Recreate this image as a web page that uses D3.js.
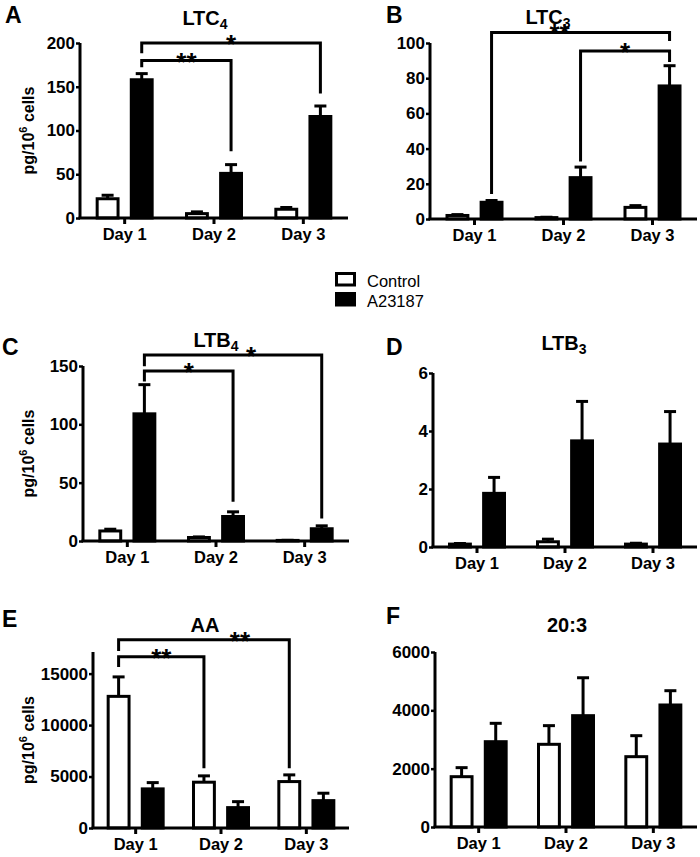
<!DOCTYPE html>
<html>
<head>
<meta charset="utf-8">
<script src="https://cdn.jsdelivr.net/npm/d3@7"></script>
<style>
  body { margin: 0; background: #fff; }
  svg { display: block; font-family: "Liberation Sans", Arial, sans-serif; }
</style>
</head>
<body>
<svg></svg>
<script>
const size = { w: 700, h: 857 };
const svg = d3.select("svg").attr("width", size.w).attr("height", size.h);

// categories
const days = ["Day 1", "Day 2", "Day 3"];
const groups = ["Control", "A23187"];

// means and SEM, one array per series (Day 1..3)
const ltc4Control = [22, 5, 10];
const ltc4ControlSem = [4, 2, 2];
const ltc4A23187 = [158, 51, 116];
const ltc4A23187Sem = [7, 10, 12];

const ltc3Control = [2, 0.8, 6.6];
const ltc3ControlSem = [0.5, 0.2, 1];
const ltc3A23187 = [9.5, 23.5, 75.6];
const ltc3A23187Sem = [1, 6, 11.5];

const ltb4Control = [8.6, 3, 0.5];
const ltb4ControlSem = [1.5, 0.5, 0.1];
const ltb4A23187 = [109, 21, 10.5];
const ltb4A23187Sem = [25, 4, 2.5];

const ltb3Control = [0.1, 0.18, 0.1];
const ltb3ControlSem = [0.02, 0.09, 0.03];
const ltb3A23187 = [1.85, 3.66, 3.55];
const ltb3A23187Sem = [0.55, 1.36, 1.12];

const aaControl = [12790, 4450, 4510];
const aaControlSem = [1890, 615, 650];
const aaA23187 = [3800, 1980, 2660];
const aaA23187Sem = [610, 580, 720];

const dgla20Control = [1725, 2835, 2411];
const dgla20ControlSem = [310, 640, 720];
const dgla20A23187 = [2925, 3817, 4183];
const dgla20A23187Sem = [630, 1300, 490];

// tick values
const ltc4Ticks = [0, 50, 100, 150, 200];
const ltc3Ticks = [0, 20, 40, 60, 80, 100];
const ltb4Ticks = [0, 50, 100, 150];
const ltb3Ticks = [0, 2, 4, 6];
const aaTicks = [0, 5000, 10000, 15000];
const dgla20Ticks = [0, 2000, 4000, 6000];

// significance brackets: [day, group] ends, values in data units
const ltc4Sig = [
	{ from: [0, 1], to: [2, 1], level: 200, leftEnd: 190, rightEnd: 144, label: "*" },
	{ from: [0, 1], to: [1, 1], level: 180, leftEnd: 174, rightEnd: 78, label: "**" },
];
const ltc3Sig = [
	{ from: [0, 1], to: [2, 1], level: 106, leftEnd: 15, rightEnd: 102, label: "**" },
	{ from: [1, 1], to: [2, 1], level: 95.5, leftEnd: 33.5, rightEnd: 90, label: "*" },
];
const ltb4Sig = [
	{ from: [0, 1], to: [2, 1], level: 159.4, leftEnd: 151, rightEnd: 20.6, label: "*" },
	{ from: [0, 1], to: [1, 1], level: 145.7, leftEnd: 138, rightEnd: 35, label: "*" },
];
const aaSig = [
	{ from: [0, 0], to: [2, 0], level: 18300, leftEnd: 17340, rightEnd: 5940, label: "**" },
	{ from: [0, 0], to: [1, 0], level: 16650, leftEnd: 15780, rightEnd: 5940, label: "**" },
];

const panels = [
	{ letter: "A", name: "LTC", sub: "4", title: [205, 25], letterPos: [5, 23],
		x0: 80, x1: 348, yBase: 218, yTop: 43, yMax: 200, ticks: ltc4Ticks, ylabel: true,
		values: [ltc4Control, ltc4A23187], sems: [ltc4ControlSem, ltc4A23187Sem],
		sig: ltc4Sig, sigDx: [0, 0] },
	{ letter: "B", name: "LTC", sub: "3", title: [548, 24], letterPos: [386, 23],
		x0: 430, x1: 697, yBase: 219, yTop: 43, yMax: 100, ticks: ltc3Ticks, ylabel: false,
		values: [ltc3Control, ltc3A23187], sems: [ltc3ControlSem, ltc3A23187Sem],
		sig: ltc3Sig, sigDx: [-21, 0] },
	{ letter: "C", name: "LTB", sub: "4", title: [216, 347], letterPos: [2, 355],
		x0: 83, x1: 349, yBase: 541, yTop: 366, yMax: 150, ticks: ltb4Ticks, ylabel: true,
		values: [ltb4Control, ltb4A23187], sems: [ltb4ControlSem, ltb4A23187Sem],
		sig: ltb4Sig, sigDx: [18, 0] },
	{ letter: "D", name: "LTB", sub: "3", title: [564, 350], letterPos: [386, 355],
		x0: 433, x1: 697, yBase: 547, yTop: 373, yMax: 6, ticks: ltb3Ticks, ylabel: false,
		values: [ltb3Control, ltb3A23187], sems: [ltb3ControlSem, ltb3A23187Sem],
		sig: [], sigDx: [] },
	{ letter: "E", name: "AA", sub: "", title: [205, 632], letterPos: [2, 627],
		x0: 93, x1: 349, yBase: 828, yTop: 652, yMax: 17100, ticks: aaTicks, ylabel: true,
		values: [aaControl, aaA23187], sems: [aaControlSem, aaA23187Sem],
		sig: aaSig, sigDx: [36, 0] },
	{ letter: "F", name: "20:3", sub: "", title: [567, 632], letterPos: [386, 624],
		x0: 435, x1: 697, yBase: 827, yTop: 652, yMax: 6000, ticks: dgla20Ticks, ylabel: false,
		values: [dgla20Control, dgla20A23187], sems: [dgla20ControlSem, dgla20A23187Sem],
		sig: [], sigDx: [] },
];

const lineW = 3;

panels.forEach(drawPanel);
drawLegend();

function drawPanel(p) {
	const g = svg.append("g").classed("panel", true);

	let x = d3.scaleBand().domain(days).range([p.x0, p.x1]);
	let xs = d3.scaleBand().domain(groups).range([-29, 29]).paddingInner(0.3);
	let y = d3.scaleLinear().domain([0, p.yMax]).range([p.yBase, p.yTop]);

	const center = (dayIdx, grpIdx) =>
		x(days[dayIdx]) + x.bandwidth() / 2 + xs(groups[grpIdx]) + xs.bandwidth() / 2;

	let rows = [];
	groups.forEach((grp, j) => {
		days.forEach((day, i) => {
			rows.push({ day: day, group: grp, i: i, j: j, v: p.values[j][i], e: p.sems[j][i] });
		});
	});

	// error bars (upper only)
	let err = g.append("g").attr("stroke", "#000").attr("stroke-width", lineW);
	err.selectAll("line.stem")
		.data(rows)
		.join("line")
		.attr("class", "stem")
		.attr("x1", (d) => center(d.i, d.j))
		.attr("x2", (d) => center(d.i, d.j))
		.attr("y1", (d) => y(d.v))
		.attr("y2", (d) => y(d.v + d.e));
	err.selectAll("line.cap")
		.data(rows)
		.join("line")
		.attr("class", "cap")
		.attr("x1", (d) => center(d.i, d.j) - 6)
		.attr("x2", (d) => center(d.i, d.j) + 6)
		.attr("y1", (d) => y(d.v + d.e))
		.attr("y2", (d) => y(d.v + d.e));

	// bars
	g.append("g")
		.selectAll("rect")
		.data(rows)
		.join("rect")
		.attr("x", (d) => center(d.i, d.j) - xs.bandwidth() / 2 + lineW / 2)
		.attr("width", xs.bandwidth() - lineW)
		.attr("y", (d) => y(d.v))
		.attr("height", (d) => Math.max(0, y(0) - y(d.v)))
		.attr("fill", (d) => (d.j === 0 ? "#fff" : "#000"))
		.attr("stroke", "#000")
		.attr("stroke-width", lineW);

	// y axis
	let yAxis = g.append("g")
		.attr("transform", `translate(${p.x0},0)`)
		.call(
			d3.axisLeft(y)
				.tickValues(p.ticks)
				.tickFormat(d3.format("d"))
				.tickSize(4)
				.tickSizeOuter(0)
				.tickPadding(1)
		);
	yAxis.select(".domain").attr("stroke-width", lineW).attr("d", `M0,${p.yTop}V${p.yBase}`);
	yAxis.selectAll(".tick line").attr("stroke-width", 2.5);
	yAxis.selectAll(".tick text")
		.attr("font-size", 17)
		.attr("font-weight", "bold")
		.attr("font-family", '"Liberation Sans", Arial, sans-serif')
		.attr("fill", "#000");

	// x axis line and group ticks
	g.append("line")
		.attr("x1", p.x0 - lineW / 2)
		.attr("x2", p.x1)
		.attr("y1", p.yBase)
		.attr("y2", p.yBase)
		.attr("stroke", "#000")
		.attr("stroke-width", lineW);
	g.append("g")
		.selectAll("line")
		.data(days)
		.join("line")
		.attr("x1", (d) => x(d) + x.bandwidth() / 2)
		.attr("x2", (d) => x(d) + x.bandwidth() / 2)
		.attr("y1", p.yBase)
		.attr("y2", p.yBase + 6)
		.attr("stroke", "#000")
		.attr("stroke-width", lineW);
	g.append("g")
		.selectAll("text")
		.data(days)
		.join("text")
		.attr("x", (d) => x(d) + x.bandwidth() / 2)
		.attr("y", p.yBase + 22)
		.attr("text-anchor", "middle")
		.attr("font-size", 16.5)
		.attr("font-weight", "bold")
		.text((d) => d);

	// significance brackets
	let sig = g.append("g");
	p.sig.forEach((s, k) => {
		let xl = center(s.from[0], s.from[1]);
		let xr = center(s.to[0], s.to[1]);
		let yl = y(s.level);
		sig.append("path")
			.attr("d", `M${xl},${y(s.leftEnd)}V${yl}H${xr}V${y(s.rightEnd)}`)
			.attr("fill", "none")
			.attr("stroke", "#000")
			.attr("stroke-width", lineW)
			.attr("stroke-linecap", "square");
		sig.append("text")
			.attr("x", (xl + xr) / 2 + p.sigDx[k])
			.attr("y", yl + 10)
			.attr("text-anchor", "middle")
			.attr("font-size", 26)
			.attr("font-weight", "bold")
			.text(s.label);
	});

	// title
	let t = g.append("text")
		.attr("x", p.title[0])
		.attr("y", p.title[1])
		.attr("text-anchor", "middle")
		.attr("font-size", 20)
		.attr("font-weight", "bold")
		.text(p.name);
	if (p.sub) {
		t.append("tspan").attr("dy", 4).attr("font-size", 14).text(p.sub);
	}

	// panel letter
	g.append("text")
		.attr("x", p.letterPos[0])
		.attr("y", p.letterPos[1])
		.attr("font-size", 23)
		.attr("font-weight", "bold")
		.text(p.letter);

	// y label
	if (p.ylabel) {
		let yl = g.append("text")
			.attr("transform", `translate(34,${(p.yTop + p.yBase) / 2}) rotate(-90)`)
			.attr("text-anchor", "middle")
			.attr("font-size", 16)
			.attr("font-weight", "bold");
		yl.append("tspan").text("pg/10");
		yl.append("tspan").attr("dy", -7).attr("font-size", 11).text("6");
		yl.append("tspan").attr("dy", 7).text(" cells");
	}
}

function drawLegend() {
	const lg = svg.append("g").attr("transform", "translate(335,272)");
	lg.selectAll("rect")
		.data(groups)
		.join("rect")
		.attr("x", 1.5)
		.attr("y", (d, i) => 1.5 + i * 20)
		.attr("width", 18)
		.attr("height", 11.5)
		.attr("fill", (d, i) => (i === 0 ? "#fff" : "#000"))
		.attr("stroke", "#000")
		.attr("stroke-width", lineW);
	lg.selectAll("text")
		.data(groups)
		.join("text")
		.attr("x", 32)
		.attr("y", (d, i) => 15 + i * 20)
		.attr("font-size", 16.5)
		.text((d) => d);
}
</script>
</body>
</html>
